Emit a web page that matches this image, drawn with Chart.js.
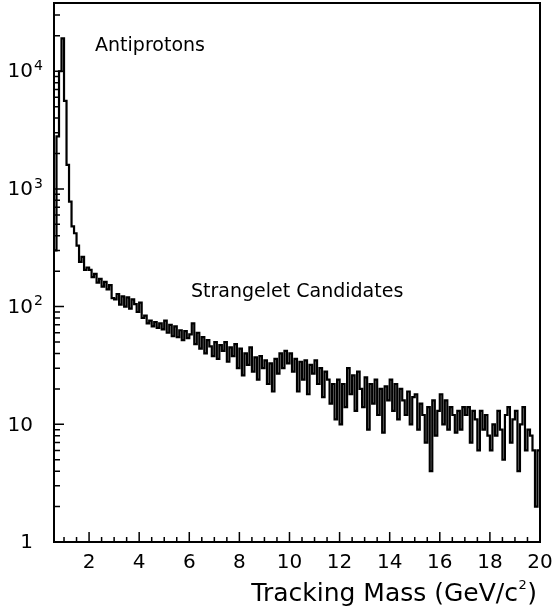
<!DOCTYPE html>
<html lang="en">
<head>
  <meta charset="UTF-8" />
  <title>Tracking Mass</title>
  <script src="https://cdn.jsdelivr.net/npm/chart.js"></script>
  <style>
    body {
      margin: 0;
      background: #fff;
    }
    #massChart {
      display: block;
    }
  </style>
</head>
<body>
  <canvas id="massChart" width="553" height="606"></canvas>

  <script>
    // histogram: 0.1 GeV bins starting at 0.6
    const firstBin = 0.6;
    const binWidth = 0.1;
    const counts = [
      300, 2800, 10000, 19000,
      5600, 1600, 780, 480, 420, 330, 240, 265, 205, 215,
      205, 178, 190, 160, 172, 148, 162, 140, 152, 118,
      115, 128, 104, 122, 100, 120, 96, 115, 105, 90,
      108, 80, 84, 72, 76, 68, 74, 66, 72, 64,
      76, 60, 70, 56, 68, 55, 63, 52, 62, 54,
      58, 72, 48, 60, 44, 55, 40, 52, 46, 38,
      50, 36, 47, 42, 50, 34, 45, 38, 48, 30,
      44, 26, 40, 32, 45, 28, 37, 24, 38, 30,
      35, 22, 33, 19, 36, 27, 40, 30, 42, 33,
      40, 28, 36, 19, 34, 24, 35, 18, 32, 27,
      35, 22, 30, 17, 28, 24, 15, 22, 11, 24,
      10, 22, 14, 30, 18, 26, 13, 28, 20, 14,
      25, 9, 22, 15, 24, 12, 20, 8.5, 21, 16,
      24, 13, 22, 11, 20, 16, 12, 19, 10, 17,
      18, 9, 15, 12, 7, 14, 4, 16, 8, 13,
      18, 10, 16, 9, 14, 12, 8.5, 13, 9, 14,
      12, 14, 7, 13, 11, 6, 13, 9, 12, 8,
      6, 10, 8, 13, 9, 5, 12, 14, 7, 11,
      13, 4, 10, 14, 6, 9, 8, 6, 2, 6
    ];

    const xMin = 0.6, xMax = 20;
    const yMin = 1, yMax = 38000;
    const xMajorTicks = [2, 4, 6, 8, 10, 12, 14, 16, 18, 20];
    const xMinorStep = 0.5;
    const yDecades = [1, 10, 100, 1000, 10000];
    const yDecadeLabels = [['1', ''], ['10', ''], ['10', '2'], ['10', '3'], ['10', '4']];
    const xTitle = ['Tracking Mass (GeV/c', '2', ')'];
    const notes = [
      { text: 'Antiprotons', x: 2.24, y: 15000 },
      { text: 'Strangelet Candidates', x: 6.07, y: 120 }
    ];

    const points = counts.map((c, i) => ({ x: +(firstBin + i * binWidth).toFixed(2), y: c }));
    points.push({ x: xMax, y: counts[counts.length - 1] });

    const FONT = '"DejaVu Sans", sans-serif';

    const rootFrame = {
      id: 'rootFrame',
      afterDraw(chart) {
        const { ctx, chartArea: a } = chart;
        const xs = chart.scales.x, ys = chart.scales.y;
        ctx.save();
        ctx.strokeStyle = '#000';
        ctx.fillStyle = '#000';

        // ticks pointing into the plot
        ctx.lineWidth = 1.5;
        ctx.beginPath();
        for (let v = 1; v < xMax; v += xMinorStep) {
          const px = xs.getPixelForValue(v);
          const len = xMajorTicks.includes(v) ? 10 : 5;
          ctx.moveTo(px, a.bottom);
          ctx.lineTo(px, a.bottom - len);
        }
        for (let d = 1; d <= 10000; d *= 10) {
          for (let m = 1; m <= 9; m++) {
            const v = d * m;
            if (v > yMax) break;
            const py = ys.getPixelForValue(v);
            const len = m === 1 ? 10 : 6;
            ctx.moveTo(a.left, py);
            ctx.lineTo(a.left + len, py);
          }
        }
        ctx.stroke();

        // frame
        ctx.lineWidth = 2;
        ctx.strokeRect(a.left, a.top, a.right - a.left, a.bottom - a.top);

        // x tick labels
        ctx.font = '20px ' + FONT;
        ctx.textAlign = 'center';
        ctx.textBaseline = 'middle';
        xMajorTicks.forEach(v => {
          ctx.fillText(String(v), xs.getPixelForValue(v), a.bottom + 21);
        });

        // y tick labels
        yDecades.forEach((v, i) => {
          const py = ys.getPixelForValue(v);
          const [base, exp] = yDecadeLabels[i];
          ctx.font = '20px ' + FONT;
          ctx.textAlign = 'right';
          ctx.textBaseline = 'middle';
          ctx.fillText(base, 33, py + 1);
          if (exp) {
            ctx.font = '14px ' + FONT;
            ctx.textAlign = 'left';
            ctx.fillText(exp, 34, py - 5);
          }
        });

        // x axis title
        ctx.textBaseline = 'alphabetic';
        ctx.textAlign = 'left';
        ctx.font = '25px ' + FONT;
        const w0 = ctx.measureText(xTitle[0]).width;
        const w2 = ctx.measureText(xTitle[2]).width;
        ctx.font = '13px ' + FONT;
        const w1 = ctx.measureText(xTitle[1]).width;
        let tx = 537 - (w0 + w1 + w2 + 1);
        ctx.font = '25px ' + FONT;
        ctx.fillText(xTitle[0], tx, 601);
        tx += w0;
        ctx.font = '13px ' + FONT;
        ctx.fillText(xTitle[1], tx + 0.5, 589);
        tx += w1 + 1;
        ctx.font = '25px ' + FONT;
        ctx.fillText(xTitle[2], tx, 601);

        // annotations
        ctx.font = '19px ' + FONT;
        notes.forEach(n => {
          ctx.fillText(n.text, xs.getPixelForValue(n.x), ys.getPixelForValue(n.y));
        });
        ctx.restore();
      }
    };

    new Chart(document.getElementById('massChart').getContext('2d'), {
      type: 'line',
      data: {
        datasets: [{
          data: points,
          stepped: true,
          borderColor: '#000',
          borderWidth: 2.2,
          pointRadius: 0,
          fill: false,
          tension: 0
        }]
      },
      options: {
        responsive: false,
        animation: false,
        layout: { padding: { left: 54, right: 13, top: 3, bottom: 64 } },
        plugins: { legend: { display: false }, tooltip: { enabled: false } },
        scales: {
          x: { type: 'linear', min: xMin, max: xMax, display: false },
          y: { type: 'logarithmic', min: yMin, max: yMax, display: false }
        }
      },
      plugins: [rootFrame]
    });
  </script>
</body>
</html>
